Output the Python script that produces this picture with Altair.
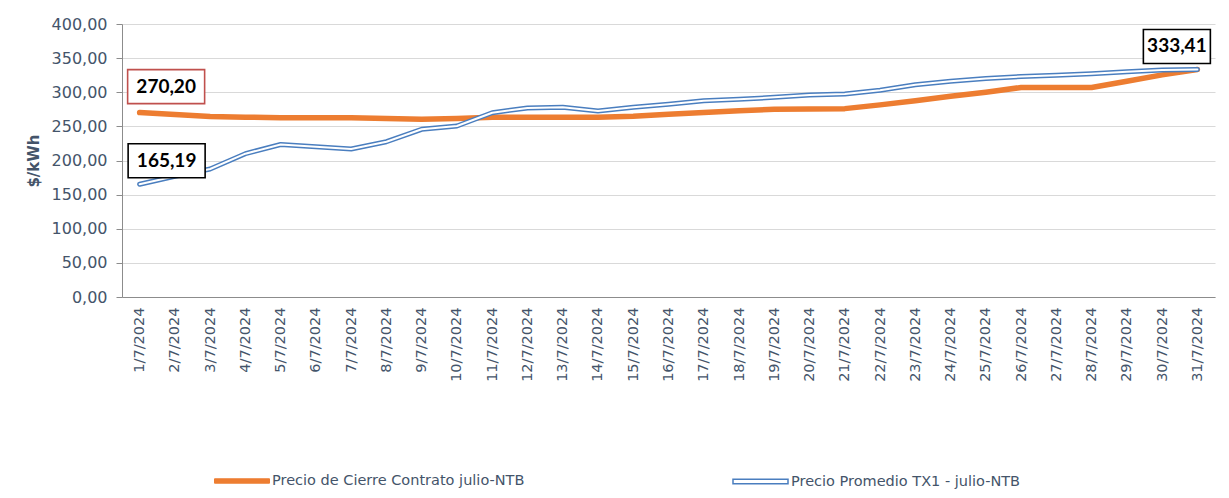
import altair as alt
import pandas as pd

fechas = [f"{d}/7/2024" for d in range(1, 32)]

cierre = [270.20, 267.5, 264.5, 263.5, 262.5, 262.5, 262.5, 261.5, 260.5, 261.5,
          263.5, 263.5, 263.5, 263.5, 265.0, 267.8, 270.5, 272.8, 275.0, 275.5,
          276.0, 281.5, 287.5, 294.0, 300.0, 307.0, 307.0, 307.0, 316.0, 325.5,
          333.41]

promedio = [165.19, 177.0, 187.5, 210.0, 223.5, 220.0, 216.8, 227.5, 245.7, 250.5,
            270.0, 277.0, 278.0, 272.5, 278.0, 282.3, 287.6, 289.6, 292.5, 296.0,
            297.5, 303.0, 311.0, 316.0, 320.0, 323.0, 325.0, 327.0, 330.0, 332.6,
            333.41]

serie_cierre = "Precio de Cierre Contrato julio-NTB"
serie_prom = "Precio Promedio TX1 - julio-NTB"

df = pd.DataFrame({
    "fecha": fechas * 2,
    "serie": [serie_cierre] * len(fechas) + [serie_prom] * len(fechas),
    "valor": cierre + promedio,
})

ORANGE = "#ed7d31"
BLUE = "#4a7ebf"
TXT = "#44546a"

x_enc = alt.X("fecha:N", sort=fechas, title=None,
              scale=alt.Scale(paddingOuter=0.5),
              axis=alt.Axis(labelAngle=270, labelFont="DejaVu Sans", labelFontSize=14.5,
                            labelColor=TXT, labelPadding=10, ticks=False,
                            domainColor="#8c8c8c", grid=False, labelOverlap=False))
y_enc = alt.Y("valor:Q", title="$/kWh",
              scale=alt.Scale(domain=[0, 400], nice=False),
              axis=alt.Axis(values=list(range(0, 401, 50)),
                            labelExpr="replace(format(datum.value, '.2f'), '.', ',')",
                            labelFont="DejaVu Sans", labelFontSize=16, labelColor=TXT,
                            labelPadding=9, tickSize=6, tickColor="#8c8c8c",
                            domainColor="#8c8c8c", gridColor="#d9d9d9",
                            titleFont="DejaVu Sans", titleFontSize=15, titleFontWeight="bold",
                            titleColor=TXT, titlePadding=10))

base = alt.Chart(df)

orange_line = base.transform_filter(alt.datum.serie == serie_cierre).mark_line(
    strokeWidth=5.5, strokeCap="round", strokeJoin="round"
).encode(
    x=x_enc, y=y_enc,
    color=alt.Color("serie:N", scale=alt.Scale(domain=[serie_cierre], range=[ORANGE]),
                    legend=alt.Legend(title=None, orient="none", legendX=92, legendY=429,
                                      symbolType="M-1,-0.08L1,-0.08L1,0.08L-1,0.08Z",
                                      symbolSize=3025, symbolStrokeWidth=1,
                                      symbolFillColor=ORANGE, symbolStrokeColor=ORANGE,
                                      labelFont="DejaVu Sans",
                                      labelFontSize=14.5, labelColor=TXT, labelOffset=2,
                                      labelLimit=400)),
)

blue_outer = base.transform_filter(alt.datum.serie == serie_prom).mark_line(
    strokeWidth=5, strokeJoin="round", strokeCap="round"
).encode(
    x=x_enc, y=y_enc,
    color=alt.Color("serie:N", scale=alt.Scale(domain=[serie_prom], range=[BLUE]),
                    legend=alt.Legend(title=None, orient="none", legendX=610, legendY=429,
                                      symbolType="M-1,-0.08L1,-0.08L1,0.08L-1,0.08Z",
                                      symbolSize=3025, symbolStrokeWidth=1.5,
                                      symbolFillColor="white", symbolStrokeColor=BLUE,
                                      labelFont="DejaVu Sans",
                                      labelFontSize=14.5, labelColor=TXT, labelOffset=2,
                                      labelLimit=400)),
)

blue_inner = base.transform_filter(alt.datum.serie == serie_prom).mark_line(
    strokeWidth=2, strokeJoin="round", strokeCap="round", color="white"
).encode(x=x_enc, y=y_enc)

lbl_expr = "replace(format(datum.valor, '.2f'), '.', ',')"


def etiqueta(fecha, serie, ancho, dx, dy, borde):
    sel = base.transform_filter(
        (alt.datum.fecha == fecha) & (alt.datum.serie == serie)
    ).transform_calculate(txt=lbl_expr)
    h = 17.0 / (ancho / 2.0)
    w = 1.0
    path = f"M{-w},{-h}L{w},{-h}L{w},{h}L{-w},{h}Z"
    caja = sel.mark_point(shape=path, size=ancho * ancho, filled=True, fill="white",
                          stroke=borde, strokeWidth=1.6, opacity=1,
                          xOffset=dx, yOffset=dy).encode(x=x_enc, y=y_enc)
    texto = sel.mark_text(font="Lato", fontSize=19, fontWeight="bold", color="black",
                          dx=dx, dy=dy, align="center", baseline="middle").encode(
        x=x_enc, y=y_enc, text="txt:N")
    return caja + texto


lab1 = etiqueta("1/7/2024", serie_cierre, 77, 26.5, -26, "#c0504d")
lab2 = etiqueta("1/7/2024", serie_prom, 77, 27, -23.5, "black")
lab3 = etiqueta("31/7/2024", serie_prom, 67, -20.5, -23, "black")

chart = alt.layer(orange_line, blue_outer, blue_inner, lab1, lab2, lab3).resolve_scale(
    color="independent"
).resolve_legend(color="independent").properties(
    width=1093, height=273,
    padding={"left": 114, "top": 16, "right": 6, "bottom": 192},
    autosize="none",
    background="white",
).configure_view(stroke=None)

chart.save("out.html", embed_options={"renderer": "svg", "actions": False})
